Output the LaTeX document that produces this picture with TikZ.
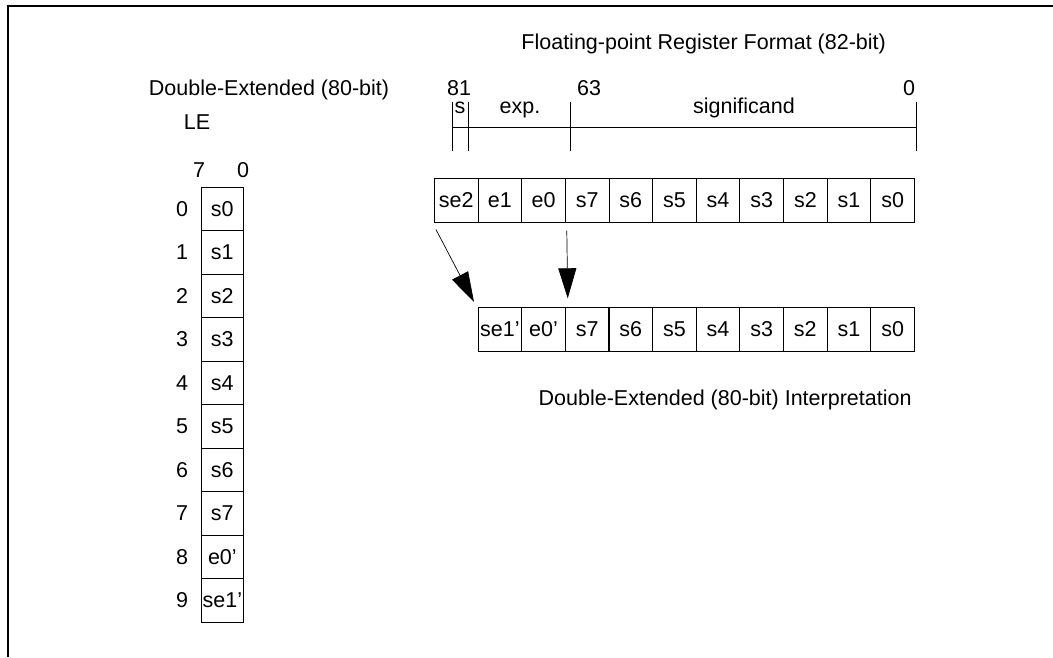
\documentclass[tikz,border=0pt]{standalone}
\usepackage{fontspec}
\setsansfont{Liberation Sans}
\usetikzlibrary{arrows.meta, positioning}
\tikzset{
  every picture/.style={font=\sffamily\fontsize{21.5}{25}\selectfont, line width=0.9pt},
  cell/.style={draw, minimum width=43.6pt, minimum height=43.4pt, inner sep=0pt, anchor=north west},
  lbl/.style={anchor=base, inner sep=0pt},
  conv/.style={-{Triangle[length=30pt, width=18pt]}, line width=0.7pt},
}

\begin{document}
\begin{tikzpicture}[x=1pt, y=-1pt]
  \useasboundingbox (0,0) rectangle (1053,657);
  % frame, open to the right and at the bottom
  \draw[line width=2.6pt] (8,657) -- (8,6) -- (1053,6);
  % headings
  \node[lbl, anchor=base west] (ttl) at (521,49) {Floating-point Register Format (82-bit)};
  \node[lbl] (dext) at (269,95) {Double-Extended (80-bit)};
  \node[lbl] (le) at (197,129) {LE};
  % memory image, one byte per row
  \node[lbl] (b7) at (199,177) {7};
  \node[lbl] (b0) at (243,177) {0};
  \foreach \t [count=\i from 0] in {s0,s1,s2,s3,s4,s5,s6,s7,e0’,se1’} {
    \node[cell, minimum width=42.8pt] (m\i) at (200.5,{186.7+43.5*\i}) {\t};
    \node[left=12pt of m\i, inner sep=0pt] (a\i) {\i};
  }
  % bit fields of the register
  \draw (452,127) -- (916,127);
  \foreach \x in {452,468,570.7,916} \draw (\x,102) -- (\x,151);
  \node[lbl] (h81) at (459,95) {81};
  \node[lbl] (h63) at (589,95) {63};
  \node[lbl] (h0) at (909,95) {0};
  \node[lbl] (fs) at (460,113) {s};
  \node[lbl] (fe) at (520,113) {exp.};
  \node[lbl] (fm) at (744,113) {significand};
  % register bytes
  \foreach \t [count=\i] in {se2,e1,e0,s7,s6,s5,s4,s3,s2,s1,s0}
    \node[cell] (r\i) at ({434+43.64*(\i-1)},178.3) {\t};
  % 80-bit view
  \foreach \t [count=\i] in {se1’,e0’,s7,s6,s5,s4,s3,s2,s1,s0}
    \node[cell] (d\i) at ({477.6+43.64*(\i-1)},307.3) {\t};
  \draw[conv] ([shift={(2,7)}]r1.south west) -- ([shift={(-3.6,-5.3)}]d1.north west);
  \draw[conv] ([shift={(1,8)}]r3.south east) -- ([shift={(2,-9)}]d2.north east);
  \node[lbl, anchor=base east] (dint) at (912,405) {Double-Extended (80-bit) Interpretation};
\end{tikzpicture}
\end{document}
